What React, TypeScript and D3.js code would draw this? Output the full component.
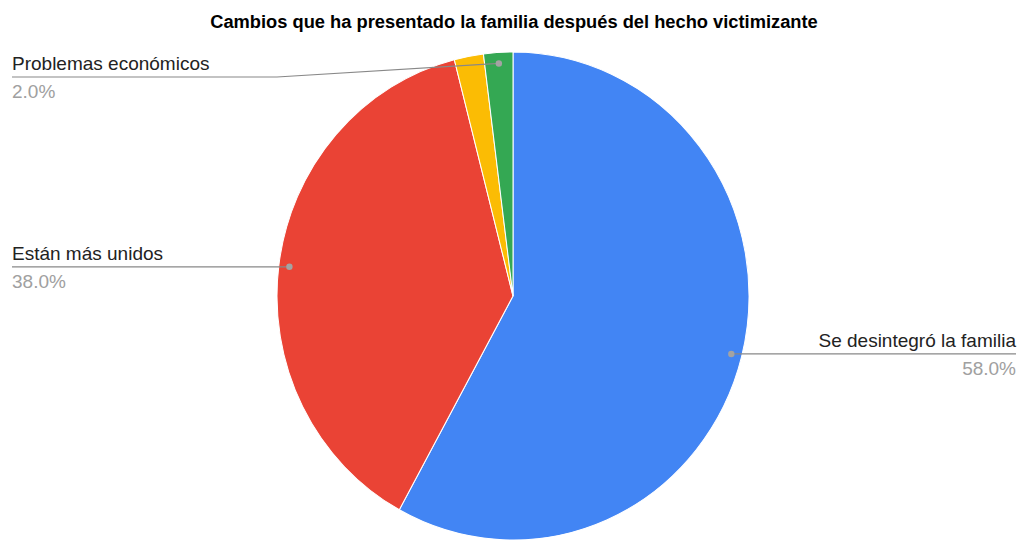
import { useMemo } from "react";
import * as d3 from "d3";

// slice data, clockwise from 12 o'clock (as the source chart orders them)
const categories = [
  "Se desintegró la familia",
  "Están más unidos",
  "Otros",
  "Problemas económicos",
];
const values = [58, 38, 2, 2];
const colors = ["#4285F4", "#EA4335", "#FBBC04", "#34A853"];
// the source chart hides the label that would collide with its neighbour
const showLabel = [true, true, false, true];

const title = "Cambios que ha presentado la familia después del hecho victimizante";

interface Slice {
  label: string;
  value: number;
  color: string;
  show: boolean;
}

const data: Slice[] = categories.map((label, i) => ({
  label,
  value: values[i],
  color: colors[i],
  show: showLabel[i],
}));

export default function App() {
  const width = 1018;
  const height = 542;
  const cx = 513;
  const cy = 296;
  const radius = 236;
  const sy = 244 / 236; // picture is slightly stretched vertically
  const font = "Arial, 'Liberation Sans', sans-serif";
  const labelTop = 77; // labels can't climb into the title area
  const sidePad = 12;

  const arcs = useMemo(
    () =>
      d3
        .pie<Slice>()
        .sort(null)
        .value((d) => d.value)(data),
    []
  );

  const arcGen = d3.arc<d3.PieArcDatum<Slice>>().innerRadius(0).outerRadius(radius);
  const dotArc = d3
    .arc<d3.PieArcDatum<Slice>>()
    .innerRadius(radius * 0.955)
    .outerRadius(radius * 0.955);

  const total = d3.sum(values);
  const fmt = d3.format(".1%");

  return (
    <svg
      width={width}
      height={height}
      style={{ position: "absolute", left: 0, top: 0, background: "#fff" }}
    >
      <text
        x={cx + 1}
        y={28}
        textAnchor="middle"
        fontFamily={font}
        fontWeight="bold"
        fontSize={18.3}
        fill="#000"
      >
        {title}
      </text>

      <g transform={`translate(${cx},${cy}) scale(1,${sy})`}>
        {arcs.map((a) => (
          <path
            key={a.data.label}
            d={arcGen(a) ?? ""}
            fill={a.data.color}
            stroke="#fff"
            strokeWidth={1}
          />
        ))}
      </g>

      {arcs
        .filter((a) => a.data.show)
        .map((a) => {
          const [px, py] = dotArc.centroid(a);
          const dx = cx + px;
          const dy = cy + py * sy;
          const left = dx < cx;
          const ly = Math.max(dy, labelTop);
          const lineEnd = left ? sidePad : width - 2;
          const bend = left ? 277 : width - 277;
          const path =
            ly === dy
              ? `M${dx},${dy}L${lineEnd},${ly}`
              : `M${dx},${dy}L${bend},${ly}L${lineEnd},${ly}`;
          const tx = left ? sidePad : width - 2;
          const anchor = left ? "start" : "end";
          return (
            <g key={a.data.label}>
              <path d={path} fill="none" stroke="#888" strokeWidth={1.2} />
              <circle cx={dx} cy={dy} r={3.2} fill="#a3a3a3" />
              <text
                x={tx}
                y={ly - 7}
                textAnchor={anchor}
                fontFamily={font}
                fontSize={19}
                fill="#222"
              >
                {a.data.label}
              </text>
              <text
                x={tx}
                y={ly + 21}
                textAnchor={anchor}
                fontFamily={font}
                fontSize={19}
                fill="#a0a0a0"
              >
                {fmt(a.data.value / total)}
              </text>
            </g>
          );
        })}
    </svg>
  );
}
